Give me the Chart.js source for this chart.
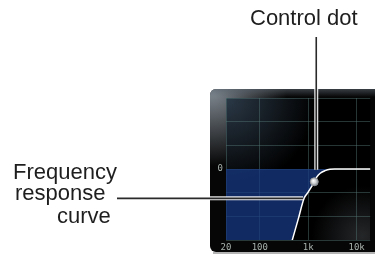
<!DOCTYPE html>
<html>
<head>
<meta charset="utf-8">
<script src="https://cdn.jsdelivr.net/npm/chart.js@4/dist/chart.umd.min.js"></script>
<style>
  html, body { margin:0; padding:0; background:#fff; }
  #wrap { position:relative; width:375px; height:254px; overflow:hidden; }
  canvas { position:absolute; left:0; top:0; }
  .note { position:absolute; font-family:"Liberation Sans", Arial, sans-serif; font-size:22px; line-height:22px; color:#1e1e1e; white-space:nowrap; }
</style>
</head>
<body>
<div id="wrap">
  <canvas id="c" width="375" height="254"></canvas>
  <div class="note" style="left:250px; top:7px;">Control dot</div>
  <div class="note" style="left:13px; top:161px;">Frequency</div>
  <div class="note" style="left:15px; top:182px;">response</div>
  <div class="note" style="left:57px; top:205px;">curve</div>
</div>
<script>
// ---- data ----
const freqs = [20, 300, 464, 620, 822, 955, 1130, 1333, 1510, 1770, 2230, 2815, 3500, 20000];
const gains = [-15, -4.4, -3.03, -2.13, -1.24, -1.03, -0.80, -0.54, -0.33, -0.18, -0.07, -0.01, 0, 0];
const dotFreq = [1333];
const dotGain = [-0.54];
const freqTicks = [20, 100, 1000, 10000];
const freqTickLabels = ['20', '100', '1k', '10k'];
const gainTicks = [-3, -2, -1, 0, 1, 2, 3];
const gainTickLabels = ['', '', '', '0', '', '', ''];
const curveLeaderFreq = 822, curveLeaderGain = -1.24;

const curveData = freqs.map((f, i) => ({x: f, y: gains[i]}));
const dotData = dotFreq.map((f, i) => ({x: f, y: dotGain[i]}));

const panelPlugin = {
  id: 'panel',
  beforeDraw(chart) {
    const ctx = chart.ctx, a = chart.chartArea;
    ctx.save();
    ctx.fillStyle = '#fff';
    ctx.fillRect(0, 0, chart.width, chart.height);
    // frame
    const fx = 210, fy = 89, fw = 180, fh = 163;
    ctx.beginPath();
    ctx.roundRect(fx, fy, fw, fh, 6);
    ctx.fillStyle = '#060606';
    ctx.fill();
    ctx.save();
    ctx.clip();
    let g = ctx.createRadialGradient(fx + 2, fy + 2, 0, fx + 2, fy + 2, 75);
    g.addColorStop(0, 'rgba(150,160,170,0.85)');
    g.addColorStop(1, 'rgba(150,160,170,0)');
    ctx.fillStyle = g;
    ctx.fillRect(fx, fy, fw, fh);
    g = ctx.createLinearGradient(0, fy, 0, fy + 8);
    g.addColorStop(0, 'rgba(90,100,110,0.6)');
    g.addColorStop(1, 'rgba(90,100,110,0)');
    ctx.fillStyle = g;
    ctx.fillRect(fx, fy, fw, 8);
    ctx.restore();
    // plot background
    ctx.fillStyle = '#000';
    ctx.fillRect(a.left, a.top, a.right - a.left, a.bottom - a.top);
    ctx.save();
    ctx.beginPath();
    ctx.rect(a.left, a.top, a.right - a.left, a.bottom - a.top);
    ctx.clip();
    g = ctx.createRadialGradient(a.left, a.top, 0, a.left, a.top, 90);
    g.addColorStop(0, 'rgba(45,60,75,0.95)');
    g.addColorStop(1, 'rgba(45,60,75,0)');
    ctx.fillStyle = g;
    ctx.fillRect(a.left, a.top, a.right - a.left, a.bottom - a.top);
    g = ctx.createRadialGradient(362, 236, 0, 362, 236, 50);
    g.addColorStop(0, 'rgba(80,85,90,0.45)');
    g.addColorStop(1, 'rgba(80,85,90,0)');
    ctx.fillStyle = g;
    ctx.fillRect(a.left, a.top, a.right - a.left, a.bottom - a.top);
    ctx.restore();
    // shadow line below frame
    ctx.fillStyle = '#b4b4b4';
    ctx.fillRect(fx + 3, fy + fh, fw, 2);
    ctx.restore();
  },
  afterDraw(chart) {
    const ctx = chart.ctx, xs = chart.scales.x, ys = chart.scales.y;
    const dx = xs.getPixelForValue(dotFreq[0]), dy = ys.getPixelForValue(dotGain[0]);
    const lx = xs.getPixelForValue(curveLeaderFreq), ly = ys.getPixelForValue(curveLeaderGain);
    ctx.save();
    ctx.lineCap = 'butt';
    const seg = (x1, y1, x2, y2) => {
      ctx.strokeStyle = 'rgba(255,255,255,0.9)'; ctx.lineWidth = 4;
      ctx.beginPath(); ctx.moveTo(x1, y1); ctx.lineTo(x2, y2); ctx.stroke();
      ctx.strokeStyle = '#2a2a2a'; ctx.lineWidth = 1.6;
      ctx.beginPath(); ctx.moveTo(x1, y1); ctx.lineTo(x2, y2); ctx.stroke();
    };
    seg(dx + 2, 37, dx + 2, dy - 12);
    seg(117, ly, lx - 1, ly);
    // glossy highlight on the control dot
    const g = ctx.createRadialGradient(dx - 1, dy - 1.2, 0.2, dx, dy, 4.2);
    g.addColorStop(0, '#ffffff');
    g.addColorStop(0.5, '#d2d4d6');
    g.addColorStop(1, '#7d8186');
    ctx.fillStyle = g;
    ctx.beginPath(); ctx.arc(dx, dy, 4, 0, Math.PI * 2); ctx.fill();
    ctx.restore();
  }
};

new Chart(document.getElementById('c'), {
  type: 'line',
  data: {
    datasets: [
      {
        data: curveData,
        borderColor: '#ffffff',
        borderWidth: 1.5,
        backgroundColor: 'rgba(24,58,135,0.72)',
        fill: {value: 0},
        pointRadius: 0,
        cubicInterpolationMode: 'monotone',
        order: 2
      },
      {
        type: 'scatter',
        data: dotData,
        pointRadius: 4,
        pointBackgroundColor: '#d4d6d8',
        pointBorderColor: '#8a8e92',
        pointBorderWidth: 0.8,
        showLine: false,
        order: 1
      }
    ]
  },
  options: {
    responsive: false,
    devicePixelRatio: 1,
    animation: false,
    layout: { padding: { top: 98, left: 0, right: 0, bottom: 0 } },
    plugins: { legend: { display: false }, tooltip: { enabled: false } },
    scales: {
      x: {
        type: 'logarithmic',
        min: 20,
        max: 19100,
        afterFit: s => { s.height = 14; },
        afterBuildTicks: s => { s.ticks = freqTicks.map(v => ({value: v})); },
        border: { display: false },
        grid: { color: 'rgba(85,120,118,0.45)', lineWidth: 1, drawTicks: false },
        ticks: {
          padding: 2,
          autoSkip: false,
          maxRotation: 0,
          color: '#a9b2ad',
          font: { family: 'DejaVu Sans Mono', size: 9 },
          callback: (v, i) => freqTickLabels[i]
        }
      },
      y: {
        min: -3,
        max: 3,
        afterFit: s => { s.width = 226; },
        afterBuildTicks: s => { s.ticks = gainTicks.map(v => ({value: v})); },
        border: { display: false },
        grid: { color: 'rgba(85,120,118,0.45)', lineWidth: 1, drawTicks: false },
        ticks: {
          padding: 3,
          color: '#a9b2ad',
          font: { family: 'DejaVu Sans Mono', size: 9 },
          callback: (v, i) => gainTickLabels[i]
        }
      }
    }
  },
  plugins: [panelPlugin]
});
</script>
</body>
</html>
